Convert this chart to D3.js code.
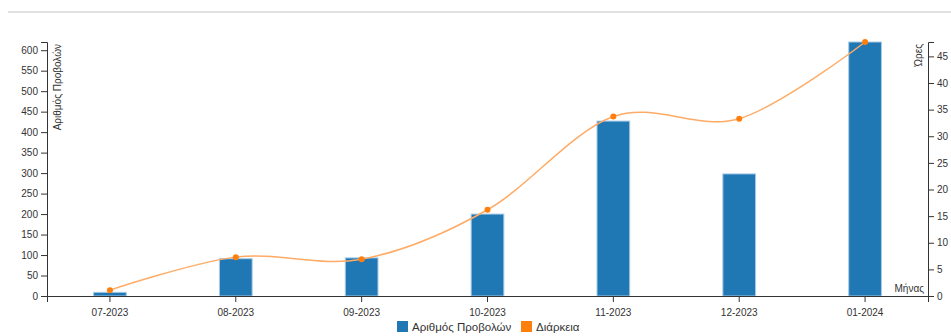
<!DOCTYPE html>
<html>
<head>
<meta charset="utf-8">
<script src="https://cdn.jsdelivr.net/npm/d3@7"></script>
<style>
  body { margin: 0; background: #fff; font-family: "Liberation Sans", Arial, sans-serif; }
  .axis text { font-size: 10px; fill: #333; }
  .axis path, .axis line { stroke: #333; }
  .axis-label { font-size: 10px; fill: #333; }
  .legend text { font-size: 11.5px; fill: #333; }
</style>
</head>
<body>
<svg width="951" height="336"></svg>
<script>
// chart data
var months = ['07-2023', '08-2023', '09-2023', '10-2023', '11-2023', '12-2023', '01-2024'];
var views = [9, 91, 93, 200, 427, 298, 620];
var hours = [1.1, 7.3, 6.9, 16.2, 33.7, 33.3, 47.7];

var svg = d3.select('svg');
var svgWidth = +svg.attr('width');

var padding = {t: 42, r: 23, b: 40, l: 47};
var plotW = svgWidth - padding.l - padding.r;
var plotH = 296 - padding.t;

// top separator line
svg.append('line')
    .attr('x1', 8).attr('x2', svgWidth)
    .attr('y1', 12).attr('y2', 12)
    .attr('stroke', '#e0e0e0')
    .attr('stroke-width', 2);

var chartG = svg.append('g')
    .attr('transform', 'translate(' + [padding.l, padding.t] + ')');

var data = months.map(function(m, i) {
    return {month: m, views: views[i], hours: hours[i]};
});

var xScale = d3.scaleBand().domain(months).range([0, plotW])
    .paddingInner(0.74).paddingOuter(0.37);
var xPoint = function(m) { return xScale(m) + xScale.bandwidth() / 2; };
var yLeft = d3.scaleLinear().domain([0, d3.max(views)]).range([plotH, 0]);
var yRight = d3.scaleLinear().domain([0, d3.max(hours)]).range([plotH, 0]);

// bars
chartG.selectAll('.bar')
    .data(data)
    .enter()
    .append('rect')
    .attr('class', 'bar')
    .attr('x', function(d) { return xScale(d.month); })
    .attr('y', function(d) { return yLeft(d.views); })
    .attr('width', xScale.bandwidth())
    .attr('height', function(d) { return plotH - yLeft(d.views); })
    .attr('fill', '#1f77b4')
    .attr('stroke', '#a9cbe6')
    .attr('stroke-width', 1);

// duration line
var line = d3.line()
    .x(function(d) { return xPoint(d.month); })
    .y(function(d) { return yRight(d.hours); })
    .curve(d3.curveCardinal);

chartG.append('path')
    .datum(data)
    .attr('d', line)
    .attr('fill', 'none')
    .attr('stroke', '#ffab66')
    .attr('stroke-width', 1.5);

chartG.selectAll('.dot')
    .data(data)
    .enter()
    .append('circle')
    .attr('class', 'dot')
    .attr('cx', function(d) { return xPoint(d.month); })
    .attr('cy', function(d) { return yRight(d.hours); })
    .attr('r', 3)
    .attr('fill', '#ff7f0e');

// axes
chartG.append('g')
    .attr('class', 'x axis')
    .attr('transform', 'translate(0,' + plotH + ')')
    .call(d3.axisBottom(xScale).tickSizeOuter(6))
    .selectAll('text').attr('dy', '1.1em');

chartG.append('g')
    .attr('class', 'y axis')
    .call(d3.axisLeft(yLeft));

chartG.append('g')
    .attr('class', 'y axis')
    .attr('transform', 'translate(' + plotW + ',0)')
    .call(d3.axisRight(yRight));

// axis titles
chartG.append('text')
    .attr('class', 'axis-label')
    .attr('transform', 'translate(' + [14, 2] + ')rotate(-90)')
    .attr('text-anchor', 'end')
    .text('Αριθμός Προβολών');

chartG.append('text')
    .attr('class', 'axis-label')
    .attr('transform', 'translate(' + [plotW - 6, 2] + ')rotate(-90)')
    .attr('text-anchor', 'end')
    .text('Ώρες');

chartG.append('text')
    .attr('class', 'axis-label')
    .attr('x', plotW - 4)
    .attr('y', plotH - 4)
    .attr('text-anchor', 'end')
    .text('Μήνας');

// legend
var legendItems = [
    {label: 'Αριθμός Προβολών', color: '#1f77b4'},
    {label: 'Διάρκεια', color: '#ff7f0e'}
];
var legendX = [397, 521];
var legend = svg.append('g').attr('class', 'legend');
var items = legend.selectAll('.item')
    .data(legendItems)
    .enter()
    .append('g')
    .attr('class', 'item')
    .attr('transform', function(d, i) { return 'translate(' + [legendX[i], 321] + ')'; });
items.append('rect')
    .attr('width', 11).attr('height', 11)
    .attr('fill', function(d) { return d.color; });
items.append('text')
    .attr('x', 15).attr('y', 10)
    .text(function(d) { return d.label; });
</script>
</body>
</html>
